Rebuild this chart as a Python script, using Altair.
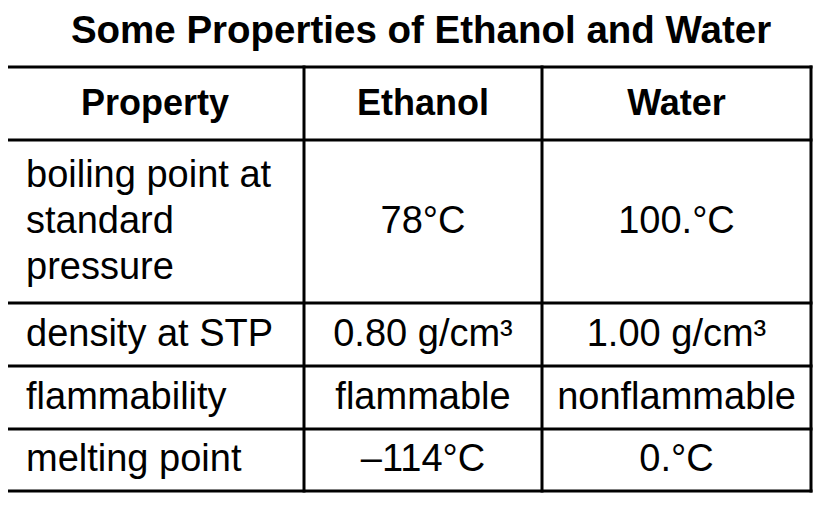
import altair as alt
import pandas as pd

# ---- content ----
title = "Some Properties of Ethanol and Water"
headers = ["Property", "Ethanol", "Water"]
properties = ["boiling point at\nstandard\npressure", "density at STP", "flammability", "melting point"]
ethanol = ["78°C", "0.80 g/cm³", "flammable", "–114°C"]
water = ["100.°C", "1.00 g/cm³", "nonflammable", "0.°C"]

# ---- layout (grid line positions, page pixels) ----
col_edges = [6, 304, 542, 811]
row_edges = [67, 140, 303, 366, 429, 491]
title_pos = (421, 31)
pad_left = 20
line_h = 46
FONT = "Liberation Sans"

W, H = 806, 490
xs = alt.Scale(domain=[8, 8 + W], zero=False, nice=False)
ys = alt.Scale(domain=[8, 8 + H], zero=False, nice=False, reverse=True)

def cx(c):
    return (col_edges[c] + col_edges[c + 1]) / 2

def cy(r):
    return (row_edges[r] + row_edges[r + 1]) / 2

# grid lines
lines = []
for y in row_edges:
    lines.append(dict(x=col_edges[0], x2=col_edges[-1], y=y, y2=y))
for x in col_edges:
    lines.append(dict(x=x, x2=x, y=row_edges[0], y2=row_edges[-1]))
lines_df = pd.DataFrame(lines)

header_df = pd.DataFrame({"text": headers, "x": [cx(i) for i in range(3)], "y": [cy(0)] * 3})
# multi-line labels: first line placed so that the block is centred in its cell
prop_y = [cy(r + 1) - (p.count("\n")) * line_h / 2 for r, p in enumerate(properties)]
prop_df = pd.DataFrame({"text": properties, "x": [col_edges[0] + pad_left] * 4, "y": prop_y})
val_df = pd.DataFrame({"text": ethanol + water,
                       "x": [cx(1)] * 4 + [cx(2)] * 4,
                       "y": [cy(r + 1) for r in range(4)] * 2})
title_df = pd.DataFrame({"text": [title], "x": [title_pos[0]], "y": [title_pos[1]]})

enc = dict(x=alt.X("x:Q", scale=xs, axis=None), y=alt.Y("y:Q", scale=ys, axis=None), text="text:N")

rules = alt.Chart(lines_df).mark_rule(color="black", strokeWidth=3, strokeCap="square").encode(
    x=alt.X("x:Q", scale=xs, axis=None), x2="x2:Q",
    y=alt.Y("y:Q", scale=ys, axis=None), y2="y2:Q")

title_layer = alt.Chart(title_df).mark_text(font=FONT, fontSize=38.5, fontWeight="bold",
                                            align="center", baseline="middle", color="black").encode(**enc)
header_layer = alt.Chart(header_df).mark_text(font=FONT, fontSize=36, fontWeight="bold",
                                              align="center", baseline="middle", color="black").encode(**enc)
prop_layer = alt.Chart(prop_df).mark_text(font=FONT, fontSize=38, align="left", baseline="middle",
                                          lineBreak="\n", lineHeight=line_h, color="black").encode(**enc)
val_layer = alt.Chart(val_df).mark_text(font=FONT, fontSize=38, align="center", baseline="middle",
                                        color="black").encode(**enc)

chart = alt.layer(rules, title_layer, header_layer, prop_layer, val_layer).properties(
    width=W, height=H, padding=0, background="white", autosize=alt.AutoSizeParams(type="none")
).configure_view(strokeWidth=0)

chart.save("out.html", embed_options={"renderer": "svg", "actions": False})
